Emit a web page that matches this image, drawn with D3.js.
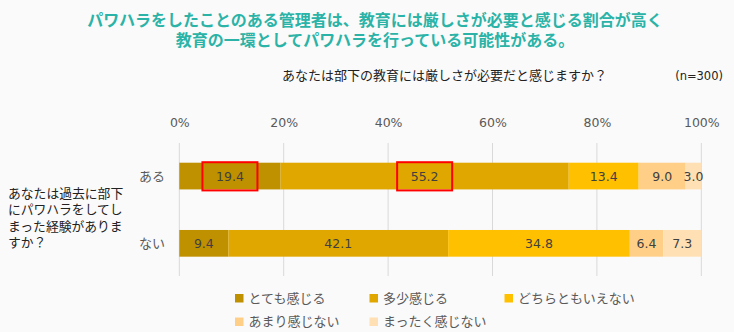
<!DOCTYPE html>
<html><head><meta charset="utf-8">
<script src="https://cdn.jsdelivr.net/npm/d3@7"></script>
<style>
html,body{margin:0;padding:0;background:#fafafa;}
svg{display:block;font-family:"Noto Sans CJK JP","Noto Sans",sans-serif;}
</style></head><body>
<svg id="c" width="734" height="332"></svg>
<script>
const categories = ["ある", "ない"];
const seriesNames = ["とても感じる", "多少感じる", "どちらともいえない", "あまり感じない", "まったく感じない"];
const valuesAru = [19.4, 55.2, 13.4, 9.0, 3.0];
const valuesNai = [9.4, 42.1, 34.8, 6.4, 7.3];
const tickValues = [0, 20, 40, 60, 80, 100];
const colors = ["#bf9000", "#dfa700", "#ffc000", "#ffcf88", "#ffe0b4"];
const highlighted = [[0, 0], [0, 1]]; // [category index, series index]

const numFont = '"DejaVu Sans","Noto Sans CJK JP",sans-serif';
const rows = [valuesAru, valuesNai];
const svg = d3.select("#c");
svg.append("rect").attr("width", 734).attr("height", 332).attr("fill", "#fafafa");

// Title
const title = svg.append("text").attr("text-anchor", "middle").attr("fill", "#2bb3a7")
  .attr("font-weight", "bold").attr("font-size", 16);
title.append("tspan").attr("x", 375).attr("y", 25.5).text("パワハラをしたことのある管理者は、教育には厳しさが必要と感じる割合が高く");
title.append("tspan").attr("x", 375).attr("y", 46).text("教育の一環としてパワハラを行っている可能性がある。");

svg.append("text").attr("x", 282).attr("y", 80).attr("font-size", 13).attr("fill", "#222")
  .text("あなたは部下の教育には厳しさが必要だと感じますか？");
svg.append("text").attr("x", 723).attr("y", 80).attr("font-size", 11.5).attr("fill", "#222")
  .attr("font-family", numFont).attr("text-anchor", "end").text("(n=300)");

const x = d3.scaleLinear().domain([0, 100]).range([179.3, 701.3]);
const y = d3.scaleBand().domain(categories).range([143, 276.4]).paddingInner(0.603).paddingOuter(0.293);

// gridlines
svg.append("g").selectAll("line").data(tickValues).join("line")
  .attr("x1", d => x(d)).attr("x2", d => x(d)).attr("y1", 143).attr("y2", 276)
  .attr("stroke", "#d9d9d9").attr("stroke-width", 1);

// top axis
const axis = d3.axisTop(x).tickValues(tickValues).tickFormat(d => d + "%").tickSize(0).tickPadding(0);
const ag = svg.append("g").attr("transform", "translate(0,127)").call(axis);
ag.select(".domain").remove();
ag.selectAll("text").attr("font-size", 12.5).attr("fill", "#595959").attr("font-family", numFont);

// bars
const segs = [];
rows.forEach((vals, ci) => {
  let acc = 0;
  vals.forEach((v, si) => {
    segs.push({cat: categories[ci], ci, si, x0: acc, x1: acc + v, v});
    acc += v;
  });
});
svg.append("g").selectAll("rect").data(segs).join("rect")
  .attr("x", d => x(d.x0)).attr("width", d => x(d.x1) - x(d.x0))
  .attr("y", d => y(d.cat)).attr("height", y.bandwidth())
  .attr("fill", d => colors[d.si]);

svg.append("g").selectAll("text").data(segs).join("text")
  .attr("x", d => (x(d.x0) + x(d.x1)) / 2).attr("y", d => y(d.cat) + y.bandwidth() / 2 + 4.5)
  .attr("text-anchor", "middle").attr("font-size", 12.5).attr("fill", "#404040")
  .attr("font-family", numFont).text(d => d.v.toFixed(1));

// highlight boxes
svg.append("g").selectAll("rect").data(highlighted).join("rect")
  .attr("x", d => { const s = segs.find(e => e.ci === d[0] && e.si === d[1]); return (x(s.x0) + x(s.x1)) / 2 - 27.5; })
  .attr("y", d => y(categories[d[0]]) - 0.5).attr("width", 55).attr("height", y.bandwidth() + 1.5)
  .attr("fill", "none").attr("stroke", "#ff0000").attr("stroke-width", 2);

// category labels
svg.append("g").selectAll("text").data(categories).join("text")
  .attr("x", 165).attr("y", d => y(d) + y.bandwidth() / 2 + 4.5).attr("text-anchor", "end")
  .attr("font-size", 13).attr("fill", "#595959").text(d => d);

// left question label
const ql = ["あなたは過去に部下", "にパワハラをしてし", "まった経験がありま", "すか？"];
svg.append("g").selectAll("text").data(ql).join("text")
  .attr("x", 8).attr("y", (d, i) => 198 + i * 16.3).attr("font-size", 12.8).attr("fill", "#222").text(d => d);

// legend
const legPos = [[235, 294], [369.5, 294], [504.5, 294], [235, 317.5], [369.5, 317.5]];
const lg = svg.append("g").selectAll("g").data(seriesNames).join("g")
  .attr("transform", (d, i) => `translate(${legPos[i][0]},${legPos[i][1]})`);
lg.append("rect").attr("width", 8.5).attr("height", 8.5).attr("fill", (d, i) => colors[i]);
lg.append("text").attr("x", 13.5).attr("y", 8.5).attr("font-size", 13).attr("fill", "#595959").text(d => d);
</script>
</body></html>
